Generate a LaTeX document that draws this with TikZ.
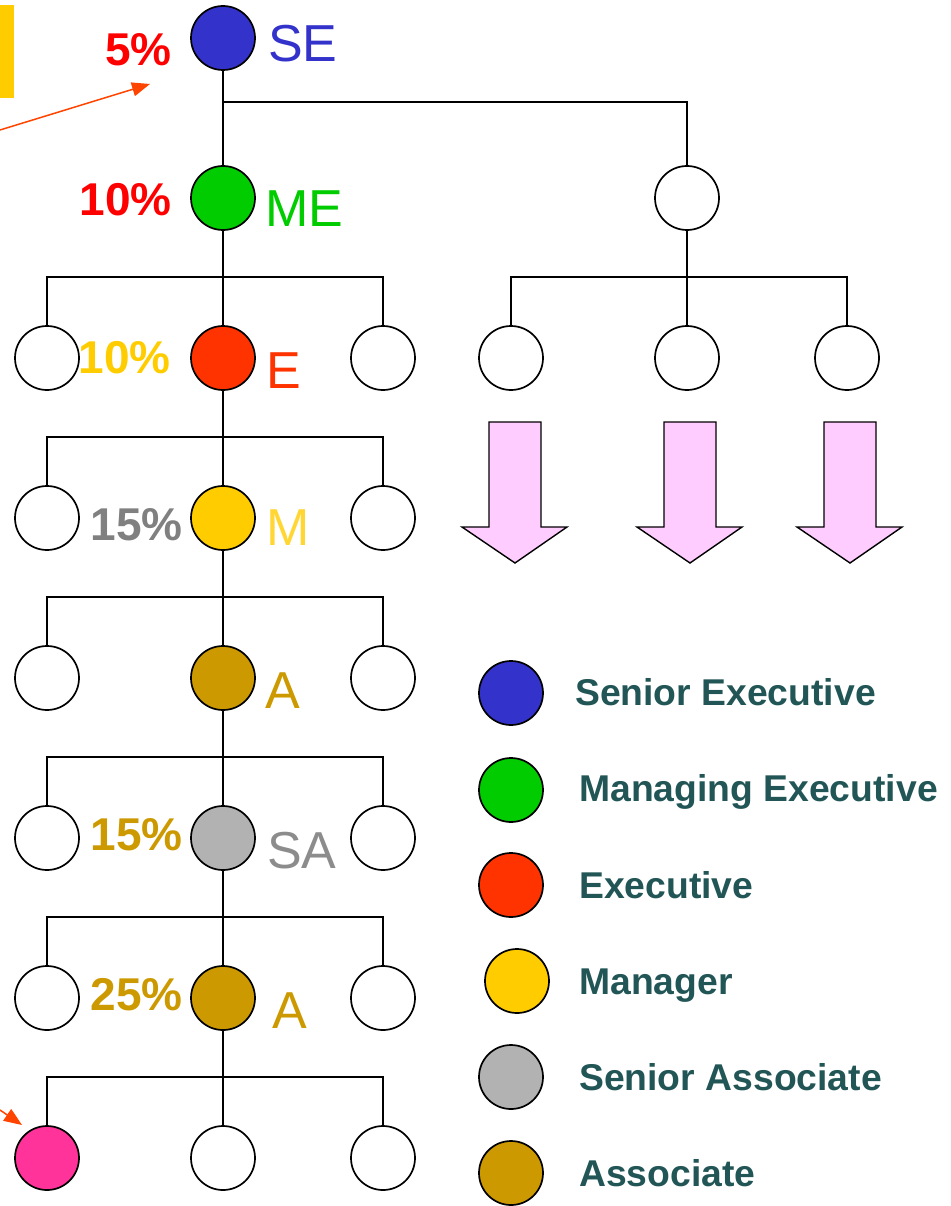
\documentclass[tikz,border=0pt]{standalone}
\usepackage{fontspec}
\setmainfont{Liberation Sans}
\usetikzlibrary{arrows.meta}
\definecolor{cBlue}{HTML}{3333CC}
\definecolor{cGreen}{HTML}{00CC00}
\definecolor{cRed}{HTML}{FF3300}
\definecolor{cYel}{HTML}{FFCC00}
\definecolor{cYelTxt}{HTML}{FFD633}
\definecolor{cGray}{HTML}{B2B2B2}
\definecolor{cGrayTxt}{HTML}{8C8C8C}
\definecolor{cGold}{HTML}{CC9900}
\definecolor{cPink}{HTML}{FF3399}
\definecolor{cPinkArr}{HTML}{FFCCFF}
\definecolor{cTeal}{HTML}{225555}
\definecolor{cArrow}{HTML}{FF4400}
\definecolor{cPctRed}{HTML}{FF0000}
\definecolor{cPctGray}{HTML}{808080}
\tikzset{
  person/.style={circle, draw=black, line width=1.7pt, minimum size=64pt, inner sep=0pt, fill=white},
  conn/.style={draw=black, line width=1.4pt},
  rank/.style={anchor=base west, inner sep=0pt, font=\fontsize{52}{58}\selectfont},
  pct/.style={anchor=base east, inner sep=0pt, font=\fontsize{46}{52}\selectfont\bfseries},
  legtxt/.style={anchor=base west, inner sep=0pt, text=cTeal, font=\fontsize{37.3}{42}\selectfont\bfseries},
  pinkarrow/.style={draw=black, line width=1.4pt, fill=cPinkArr, line join=miter},
  redarrow/.style={draw=cArrow, line width=1.5pt, -{Triangle[length=18pt,width=14pt]}}
}
\begin{document}
\begin{tikzpicture}[x=1pt,y=-1pt]
\useasboundingbox (0,0) rectangle (950,1206);
% yellow bar
\fill[cYel] (0,5) rectangle (14,98);
% tree nodes
\node[person, fill=cBlue] (se) at (223,38) {};
\node[person, fill=cGreen] (me) at (223,198) {};
\node[person] (rt) at (687,198) {};
\node[person] (e1) at (47,358) {};
\node[person, fill=cRed] (e) at (223,358) {};
\node[person] (e3) at (383,358) {};
\node[person] (r1) at (511,358) {};
\node[person] (r2) at (687,358) {};
\node[person] (r3) at (847,358) {};
\node[person] (m1) at (47,518) {};
\node[person, fill=cYel] (m) at (223,518) {};
\node[person] (m3) at (383,518) {};
\node[person] (a1) at (47,678) {};
\node[person, fill=cGold] (a) at (223,678) {};
\node[person] (a3) at (383,678) {};
\node[person] (s1) at (47,838) {};
\node[person, fill=cGray] (sa) at (223,838) {};
\node[person] (s3) at (383,838) {};
\node[person] (b1) at (47,998) {};
\node[person, fill=cGold] (aa) at (223,998) {};
\node[person] (b3) at (383,998) {};
\node[person, fill=cPink] (c1) at (47,1158) {};
\node[person] (c2) at (223,1158) {};
\node[person] (c3) at (383,1158) {};
% connectors
\coordinate (j0) at (223,102);
\draw[conn] (se.south) -- (me.north);
\draw[conn] (rt.north) |- (j0);
\draw[conn] (me.south) -- (e.north);
\draw[conn] (e1.north) -- ++(0,-48) -| (e3.north);
\draw[conn] (rt.south) -- (r2.north);
\draw[conn] (r1.north) -- ++(0,-48) -| (r3.north);
\draw[conn] (e.south) -- (m.north);
\draw[conn] (m1.north) -- ++(0,-48) -| (m3.north);
\draw[conn] (m.south) -- (a.north);
\draw[conn] (a1.north) -- ++(0,-48) -| (a3.north);
\draw[conn] (a.south) -- (sa.north);
\draw[conn] (s1.north) -- ++(0,-48) -| (s3.north);
\draw[conn] (sa.south) -- (aa.north);
\draw[conn] (b1.north) -- ++(0,-48) -| (b3.north);
\draw[conn] (aa.south) -- (c2.north);
\draw[conn] (c1.north) -- ++(0,-48) -| (c3.north);
% rank labels
\node[rank, text=cBlue] (tse) at (268,62) {SE};
\node[rank, text=cGreen] (tme) at (265,226) {ME};
\node[rank, text=cRed] (te) at (266,388) {E};
\node[rank, text=cYelTxt] (tm) at (266,545) {M};
\node[rank, text=cGold] (ta) at (265,708) {A};
\node[rank, text=cGrayTxt] (tsa) at (267,868) {SA};
\node[rank, text=cGold] (taa) at (272,1028) {A};
% percentages
\node[pct, text=cPctRed] (p1) at (172,66) {5\%};
\node[pct, text=cPctRed] (p2) at (172,215) {10\%};
\node[pct, text=cYel] (p3) at (171,373) {10\%};
\node[pct, text=cPctGray] (p4) at (183,540) {15\%};
\node[pct, text=cGold] (p5) at (183,850) {15\%};
\node[pct, text=cGold] (p6) at (183,1010) {25\%};
% red arrows
\coordinate (ra0) at (0,130);
\coordinate (ra1) at (150,84);
\draw[redarrow] (ra0) -- (ra1);
\coordinate (rb0) at (0,1110);
\coordinate (rb1) at (22,1125);
\draw[redarrow] (rb0) -- (rb1);
% pink arrows
\foreach \cx in {515,690,850}{
  \draw[pinkarrow] (\cx-26,422) -- (\cx+26,422) -- (\cx+26,527) -- (\cx+52,527)
    -- (\cx,563) -- (\cx-53,527) -- (\cx-26,527) -- cycle;
}
% legend
\node[person, fill=cBlue] (l1) at (511,693) {};
\node[person, fill=cGreen] (l2) at (511,790) {};
\node[person, fill=cRed] (l3) at (511,885) {};
\node[person, fill=cYel] (l4) at (517,981) {};
\node[person, fill=cGray] (l5) at (511,1077) {};
\node[person, fill=cGold] (l6) at (511,1173) {};
\node[legtxt] (t1) at (575,705) {Senior Executive};
\node[legtxt] (t2) at (579,801) {Managing Executive};
\node[legtxt] (t3) at (579,898) {Executive};
\node[legtxt] (t4) at (579,994) {Manager};
\node[legtxt] (t5) at (579,1090) {Senior Associate};
\node[legtxt] (t6) at (579,1186) {Associate};
\end{tikzpicture}
\end{document}
